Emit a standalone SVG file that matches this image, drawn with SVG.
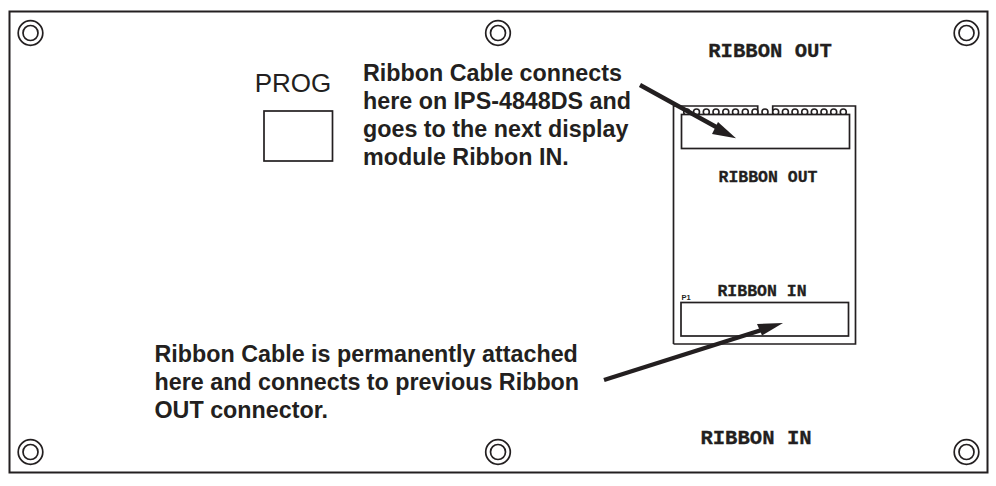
<svg xmlns="http://www.w3.org/2000/svg" width="996" height="486" viewBox="0 0 996 486">
<style>
.l{fill:none;stroke:#231f20;stroke-width:1.7}
.b{font:bold 23.3px "Liberation Sans",Arial,sans-serif;fill:#231f20}
.m{font-family:"Liberation Mono",monospace;font-weight:bold;fill:#231f20;stroke:#231f20;stroke-width:.3}
.p{fill:#fff;stroke:#231f20;stroke-width:1.6}
.a{stroke:#231f20;stroke-width:4.400;fill:none}
.h{fill:#231f20}
</style>
<defs>
<g id="hole"><circle r="12.300" class="l"/><circle r="7.500" class="l"/></g>
<g id="pin"><circle r="3" class="p"/></g>
</defs>
<rect id="panel" x="9.500" y="11.500" width="978" height="461" class="l" style="stroke-width:2"/>
<g id="holes">
<use href="#hole" x="30.500" y="33"/><use href="#hole" x="498" y="33"/><use href="#hole" x="966.500" y="33"/>
<use href="#hole" x="30.500" y="452"/><use href="#hole" x="498" y="452"/><use href="#hole" x="966.500" y="452"/>
</g>
<g id="prog">
<text x="293" y="92" text-anchor="middle" font-family="Liberation Sans,Arial,sans-serif" font-size="26" fill="#231f20">PROG</text>
<rect x="264" y="111" width="68.500" height="50" class="l"/>
</g>
<g id="board">
<path d="M673.500 344V106H757.700V114M772.700 114V106H855.500V344H673.500" class="l"/>
<g>
<use href="#pin" x="686.700" y="112"/><use href="#pin" x="696.500" y="112"/><use href="#pin" x="706.300" y="112"/><use href="#pin" x="716" y="112"/><use href="#pin" x="725.800" y="112"/><use href="#pin" x="735.500" y="112"/><use href="#pin" x="745.300" y="112"/><use href="#pin" x="755" y="112"/><use href="#pin" x="765" y="112"/><use href="#pin" x="775.700" y="112"/><use href="#pin" x="785.400" y="112"/><use href="#pin" x="795" y="112"/><use href="#pin" x="804.700" y="112"/><use href="#pin" x="814.300" y="112"/><use href="#pin" x="824" y="112"/><use href="#pin" x="833.700" y="112"/><use href="#pin" x="843.300" y="112"/>
</g>
<rect x="681.500" y="114.500" width="168" height="34" class="l" style="fill:#fff"/>
<rect x="681" y="302.500" width="167.500" height="33.500" class="l"/>
<text x="768" y="182" text-anchor="middle" class="m" font-size="16.500">RIBBON OUT</text>
<text x="762" y="296" text-anchor="middle" class="m" font-size="16.500">RIBBON IN</text>
<text x="681.500" y="300" font-family="Liberation Sans,Arial,sans-serif" font-weight="bold" font-size="7.500" fill="#231f20">P1</text>
</g>
<g id="labels">
<text x="770" y="57" text-anchor="middle" class="m" font-size="20.600">RIBBON OUT</text>
<text x="756" y="444" text-anchor="middle" class="m" font-size="20.600">RIBBON IN</text>
<text class="b"><tspan x="363" y="81">Ribbon Cable connects</tspan><tspan x="363" y="109">here on IPS-4848DS and</tspan><tspan x="363" y="137">goes to the next display</tspan><tspan x="363" y="165">module Ribbon IN.</tspan></text>
<text class="b"><tspan x="154.500" y="362">Ribbon Cable is permanently attached</tspan><tspan x="154.500" y="390">here and connects to previous Ribbon</tspan><tspan x="154.500" y="418">OUT connector.</tspan></text>
</g>
<g id="connectors">
<path d="M640 85L718 128" class="a"/><path d="M736 138.300L712 134L718 122Z" class="h"/>
<path d="M604 380L765 329" class="a"/><path d="M783 323L762 335.500L757 324Z" class="h"/>
</g>
</svg>
